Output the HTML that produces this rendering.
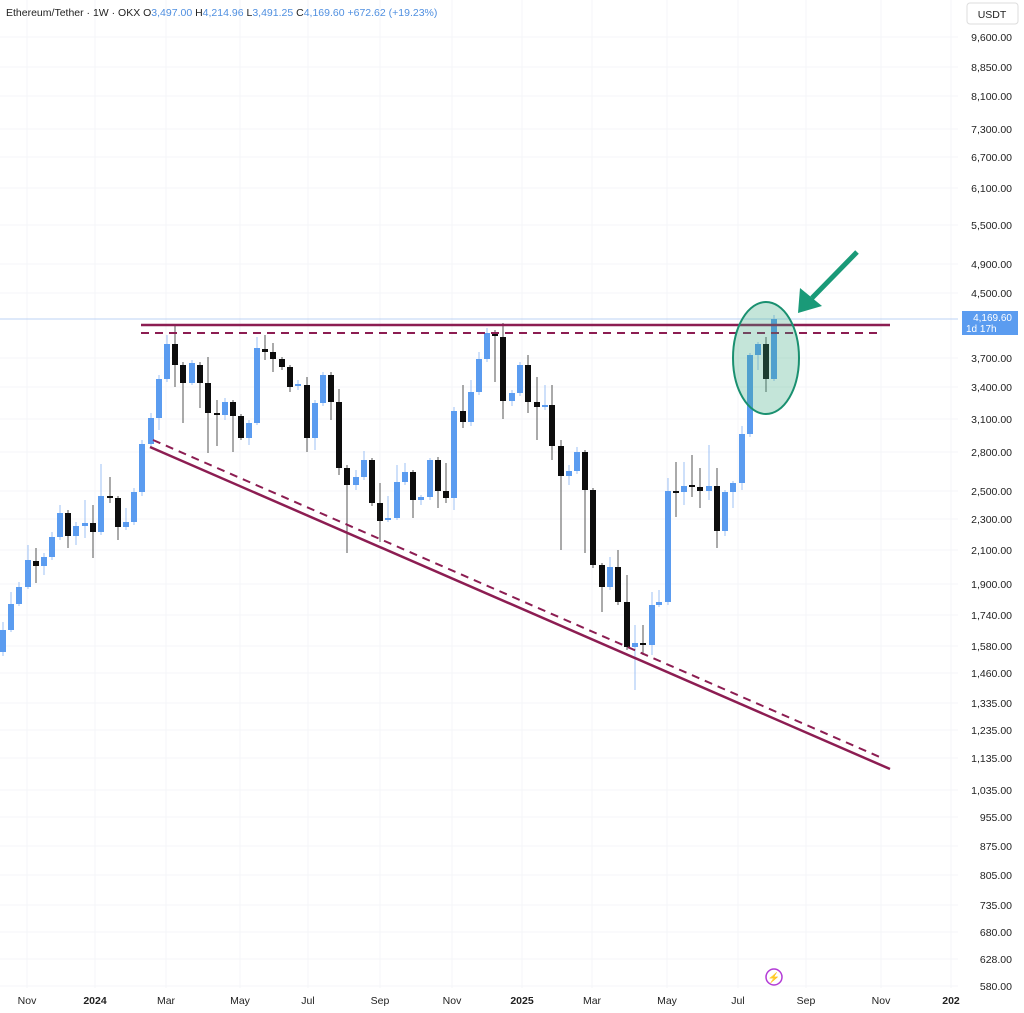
<!DOCTYPE html>
<html><head><meta charset="utf-8"><style>
html,body{margin:0;padding:0;background:#fff;}
body{width:1024px;height:1013px;overflow:hidden;font-family:"Liberation Sans",sans-serif;}
</style></head><body>
<svg id="c" width="1024" height="1013" xmlns="http://www.w3.org/2000/svg" style="position:absolute;left:0;top:0">
<rect width="1024" height="1013" fill="#fff"/>
<g id="grid" stroke="#f4f5f8" stroke-width="1"></g>
<line x1="0" y1="319" x2="958" y2="319" stroke="#bcd3f5" stroke-width="1"/>
<g id="candles"></g>
<g stroke="#8c1d52" fill="none">
<line x1="141" y1="325" x2="890" y2="325" stroke-width="2.5"/>
<line x1="141" y1="333" x2="882" y2="333" stroke-width="2" stroke-dasharray="8,6"/>
<line x1="150" y1="447" x2="890" y2="769" stroke-width="2.5"/>
<line x1="153" y1="440" x2="882" y2="758" stroke-width="2" stroke-dasharray="8,6"/>
</g>
<ellipse cx="766" cy="358" rx="33" ry="56" fill="rgba(60,170,130,0.3)" stroke="#1a9070" stroke-width="2"/>
<line x1="857" y1="252" x2="812" y2="298" stroke="#1a9a78" stroke-width="5"/>
<polygon points="798,313 800,288 822,306" fill="#1a9a78"/>
<g id="axis" font-size="10.5" fill="#222" text-anchor="end"></g>
<g id="xaxis" font-size="10.5" fill="#222" text-anchor="middle"></g>
<rect x="962" y="311" width="56" height="24" fill="#5b9cf0"/>
<text x="1012" y="321" font-size="10" fill="#fff" text-anchor="end">4,169.60</text>
<text x="966" y="332" font-size="10" fill="#fff">1d 17h</text>
<rect x="967" y="3" width="51" height="21" rx="3" fill="#fff" stroke="#ddd"/>
<text x="992" y="18" font-size="10.5" fill="#222" text-anchor="middle">USDT</text>
<circle cx="774" cy="977" r="8" fill="none" stroke="#b33bd6" stroke-width="1.5"/>
<text x="774" y="981" font-size="10" fill="#b33bd6" text-anchor="middle">⚡</text>
<text x="6" y="16" font-size="10.5" fill="#222">Ethereum/Tether · 1W · OKX  O<tspan fill="#4f8fe0">3,497.00</tspan>  H<tspan fill="#4f8fe0">4,214.96</tspan>  L<tspan fill="#4f8fe0">3,491.25</tspan>  C<tspan fill="#4f8fe0">4,169.60</tspan>  <tspan fill="#4f8fe0">+672.62 (+19.23%)</tspan></text>
</svg>
<script>
var NS="http://www.w3.org/2000/svg";
function el(p,t,a,txt){var e=document.createElementNS(NS,t);for(var k in a)e.setAttribute(k,a[k]);if(txt)e.textContent=txt;p.appendChild(e);return e;}
var g=document.getElementById('grid'),ax=document.getElementById('axis'),xa=document.getElementById('xaxis');
var yl=[[37,"9,600.00"],[67,"8,850.00"],[96,"8,100.00"],[129,"7,300.00"],[157,"6,700.00"],[188,"6,100.00"],[225,"5,500.00"],[264,"4,900.00"],[293,"4,500.00"],[358,"3,700.00"],[387,"3,400.00"],[419,"3,100.00"],[452,"2,800.00"],[491,"2,500.00"],[519,"2,300.00"],[550,"2,100.00"],[584,"1,900.00"],[615,"1,740.00"],[646,"1,580.00"],[673,"1,460.00"],[703,"1,335.00"],[730,"1,235.00"],[758,"1,135.00"],[790,"1,035.00"],[817,"955.00"],[846,"875.00"],[875,"805.00"],[905,"735.00"],[932,"680.00"],[959,"628.00"],[986,"580.00"]];
yl.forEach(function(v){el(g,'line',{x1:0,y1:v[0],x2:958,y2:v[0]});el(ax,'text',{x:1012,y:v[0]+4},v[1]);});
var xl=[[27,"Nov"],[95,"2024"],[166,"Mar"],[240,"May"],[308,"Jul"],[380,"Sep"],[452,"Nov"],[522,"2025"],[592,"Mar"],[667,"May"],[738,"Jul"],[806,"Sep"],[881,"Nov"],[951,"202"]];
xl.forEach(function(v){el(g,'line',{x1:v[0],y1:0,x2:v[0],y2:988});var t=el(xa,'text',{x:v[0],y:1004},v[1]);if(/^20/.test(v[1]))t.setAttribute('font-weight','bold');});
var d=[[3,630,652,622,656,'b'],[11,604,630,592,632,'b'],[19,587,604,582,606,'b'],[28,560,587,545,589,'b'],[36,561,566,548,583,'k'],[44,557,566,553,575,'b'],[52,537,557,532,560,'b'],[60,513,537,505,540,'b'],[68,513,536,510,548,'k'],[76,526,536,522,545,'b'],[85,523,526,500,538,'b'],[93,523,532,505,558,'k'],[101,496,532,464,535,'b'],[110,496,498,477,503,'k'],[118,498,527,496,540,'k'],[126,522,527,508,530,'b'],[134,492,522,488,525,'b'],[142,444,492,440,496,'b'],[151,418,444,413,447,'b'],[159,379,418,375,430,'b'],[167,344,379,335,382,'b'],[175,344,365,325,387,'k'],[183,365,383,362,423,'k'],[192,363,383,360,385,'b'],[200,365,383,362,408,'k'],[208,383,413,357,453,'k'],[217,413,415,400,446,'k'],[225,402,415,398,420,'b'],[233,402,416,400,452,'k'],[241,416,438,414,440,'k'],[249,423,438,420,445,'b'],[257,348,423,337,425,'b'],[265,349,352,335,360,'k'],[273,352,359,343,372,'k'],[282,359,367,357,370,'k'],[290,367,387,365,392,'k'],[298,384,386,380,390,'b'],[307,385,438,377,452,'k'],[315,403,438,400,450,'b'],[323,375,403,372,406,'b'],[331,375,402,372,420,'k'],[339,402,468,389,475,'k'],[347,468,485,465,553,'k'],[356,477,485,470,490,'b'],[364,460,477,451,480,'b'],[372,460,503,458,506,'k'],[380,503,521,483,542,'k'],[388,518,520,496,522,'b'],[397,482,518,465,520,'b'],[405,472,482,463,485,'b'],[413,472,500,470,518,'k'],[421,497,500,495,505,'b'],[430,460,497,458,500,'b'],[438,460,491,457,508,'k'],[446,491,498,463,503,'k'],[454,411,498,407,510,'b'],[463,411,422,385,428,'k'],[471,392,422,380,426,'b'],[479,359,392,352,395,'b'],[487,333,359,328,362,'b'],[495,333,336,330,382,'k'],[503,337,401,323,419,'k'],[512,393,401,390,406,'b'],[520,365,393,362,396,'b'],[528,365,402,355,413,'k'],[537,402,407,377,440,'k'],[545,405,407,385,410,'b'],[552,405,446,385,460,'k'],[561,446,476,440,550,'k'],[569,471,476,465,485,'b'],[577,452,471,447,474,'b'],[585,452,490,450,553,'k'],[593,490,565,488,568,'k'],[602,565,587,563,612,'k'],[610,567,587,557,590,'b'],[618,567,602,550,605,'k'],[627,602,647,575,650,'k'],[635,643,647,625,690,'b'],[643,643,645,625,655,'k'],[652,605,645,592,655,'b'],[659,602,605,590,607,'b'],[668,491,602,478,605,'b'],[676,491,493,462,517,'k'],[684,486,492,462,505,'b'],[692,485,487,455,497,'k'],[700,487,491,468,508,'k'],[709,486,491,445,500,'b'],[717,486,531,468,548,'k'],[725,492,531,490,536,'b'],[733,483,492,481,508,'b'],[742,434,483,426,490,'b'],[750,355,434,353,437,'b'],[758,344,355,342,370,'b'],[766,344,379,337,392,'k'],[774,319,379,315,381,'b']];
var cg=document.getElementById('candles');
d.forEach(function(c){var col=c[5]=='b'?'#5b9cf0':'#0d0d0d';var wc=c[5]=='b'?'#9cc0f5':'#555';
el(cg,'line',{x1:c[0],y1:c[3],x2:c[0],y2:c[4],stroke:wc,'stroke-width':1});
el(cg,'rect',{x:c[0]-3,y:c[1],width:6,height:Math.max(2,c[2]-c[1]),fill:col});});
</script>
</body></html>
